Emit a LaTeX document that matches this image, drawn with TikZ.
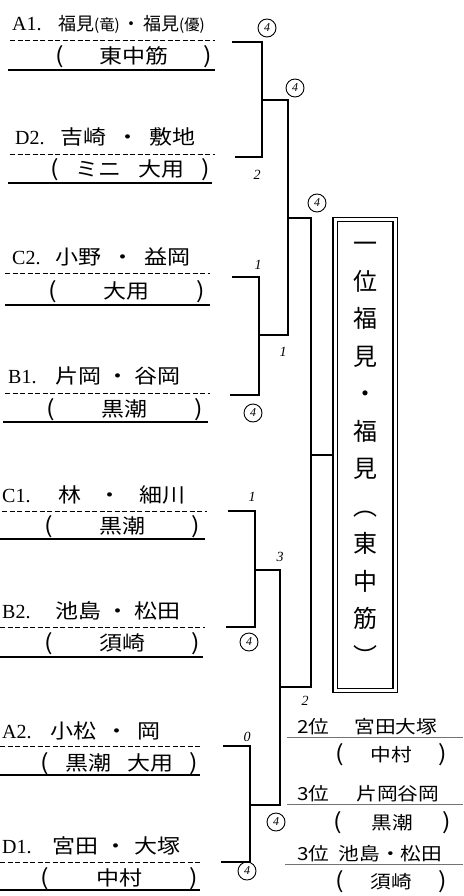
\documentclass[tikz,border=0pt]{standalone}
\usepackage{fontspec}
\setmainfont{Liberation Serif}
\newfontfamily\jp{Noto Sans CJK JP}
\newfontfamily\jpw[FakeStretch=1.15]{Noto Sans CJK JP}
\newcommand\spr[2]{\makebox[#1pt][s]{#2}}
\newcommand\sm[1]{\scalebox{0.85}{#1}}
\newcommand\LP{{\fontsize{22}{22}\selectfont(}}
\newcommand\RP{{\fontsize{22}{22}\selectfont)}}
\begin{document}
\begin{tikzpicture}[x=1pt,y=-1pt,
  lab/.style={anchor=base west, inner sep=0pt, font=\fontsize{20}{20}\selectfont},
  nm/.style={anchor=base west, inner sep=0pt, font=\fontsize{20}{20}\selectfont\jpw},
  sch/.style={anchor=base west, inner sep=0pt, font=\fontsize{20}{20}\selectfont\jpw},
  dl/.style={line width=1pt, dash pattern=on 5pt off 2.5pt},
  sl/.style={line width=1.4pt},
  br/.style={line width=2pt},
  cs/.style={circle, draw, line width=0.9pt, inner sep=0pt, minimum size=18pt, font=\fontsize{12}{12}\selectfont\itshape},
  hs/.style={inner sep=0pt, font=\fontsize{14}{14}\selectfont\itshape},
  res/.style={anchor=base west, inner sep=0pt, font=\fontsize{18}{18}\selectfont\jpw},
  ul/.style={line width=1pt, black!55}
]
\useasboundingbox (0,0) rectangle (463,896);

% ---------- entries ----------
\node[lab] (A1l) at (12,31) {A1.};
\node[nm,font=\fontsize{18}{18}\selectfont\jp] (A1n) at (58,31) {\spr{142}{福見\sm{(竜)} ・ 福見\sm{(優)}}};
\node[sch] (A1s) at (55,64) {\spr{157}{\LP{} 東中筋 \RP}};
\draw[dl] (10,41) -- (215,41);
\draw[sl] (8,70) -- (215,70);

\node[lab] (D2l) at (15,145) {D2.};
\node[nm]  (D2n) at (60,145) {\spr{135}{吉崎 ・ 敷地}};
\node[sch] (D2s) at (50,177) {\spr{160}{\LP{} ミニ 大用 \RP}};
\draw[dl] (10,155) -- (215,155);
\draw[sl] (8,183) -- (212,183);

\node[lab] (C2l) at (12,264) {C2.};
\node[nm]  (C2n) at (55,264) {\spr{135}{小野 ・ 益岡}};
\node[sch] (C2s) at (48,298) {\spr{157}{\LP{} 大用 \RP}};
\draw[dl] (5,273) -- (210,273);
\draw[sl] (5,305) -- (210,305);

\node[lab] (B1l) at (8,383) {B1.};
\node[nm]  (B1n) at (55,383) {\spr{125}{片岡 ・ 谷岡}};
\node[sch] (B1s) at (46,416) {\spr{157}{\LP{} 黒潮 \RP}};
\draw[dl] (5,393) -- (210,393);
\draw[sl] (3,422) -- (208,422);

\node[lab] (C1l) at (2,502) {C1.};
\node[nm]  (C1n) at (58,502) {\spr{127}{林 ・ 細川}};
\node[sch] (C1s) at (44,533) {\spr{156}{\LP{} 黒潮 \RP}};
\draw[dl] (2,511) -- (207,511);
\draw[sl] (0,539) -- (205,539);

\node[lab] (B2l) at (2,618) {B2.};
\node[nm]  (B2n) at (55,618) {\spr{125}{池島 ・ 松田}};
\node[sch] (B2s) at (44,650) {\spr{156}{\LP{} 須崎 \RP}};
\draw[dl] (0,627) -- (205,627);
\draw[sl] (0,657) -- (203,657);

\node[lab] (A2l) at (2,738) {A2.};
\node[nm]  (A2n) at (50,738) {\spr{110}{小松 ・ 岡}};
\node[sch] (A2s) at (40,770) {\spr{158}{\LP{} 黒潮 大用 \RP}};
\draw[dl] (0,746) -- (202,746);
\draw[sl] (0,775) -- (200,775);

\node[lab] (D1l) at (2,853) {D1.};
\node[nm]  (D1n) at (52,853) {\spr{128}{宮田 ・ 大塚}};
\node[sch] (D1s) at (40,885) {\spr{158}{\LP{} 中村 \RP}};
\draw[dl] (0,862) -- (202,862);
\draw[sl] (0,890) -- (200,890);

% ---------- bracket points ----------
\coordinate (A1e) at (232,42);
\coordinate (D2e) at (235,157);
\coordinate (C2e) at (232,277);
\coordinate (B1e) at (230,395);
\coordinate (C1e) at (228,511);
\coordinate (B2e) at (226,627);
\coordinate (A2e) at (223,746);
\coordinate (D1e) at (221,862);
\coordinate (Q1) at (262,100);
\coordinate (Q2) at (259,335);
\coordinate (Q3) at (255,570);
\coordinate (Q4) at (250,805);
\coordinate (S1) at (288,218);
\coordinate (S2) at (280,687);
\coordinate (F) at (311,455);

% ---------- winner box ----------
\node[draw, line width=1.3pt, double, double distance=3pt, minimum width=60pt,
      minimum height=471pt, inner sep=0pt] (box) at (365,455) {};
\node[font=\fontsize{24}{37.5}\selectfont\jp, align=center, inner sep=0pt] (wt) at (365,454)
  {一\\位\\福\\見\\・\\福\\見\\︵\\東\\中\\筋\\︶};

% ---------- brackets ----------
\draw[br] (A1e) -| (Q1) |- (D2e);
\draw[br] (C2e) -| (Q2) |- (B1e);
\draw[br] (C1e) -| (Q3) |- (B2e);
\draw[br] (A2e) -| (Q4) |- (D1e);
\draw[br] (Q1) -| (S1) |- (Q2);
\draw[br] (Q3) -| (S2) |- (Q4);
\draw[br] (S1) -| (F) |- (S2);
\draw[br] (F) -- (box.west);

% ---------- scores ----------
\node[cs] (s1) at (267,28) {4};
\node[hs] (s2) at (257,175) {2};
\node[cs] (s3) at (295,88) {4};
\node[hs] (s4) at (258,265) {1};
\node[cs] (s5) at (253,413) {4};
\node[hs] (s6) at (283,352) {1};
\node[cs] (s7) at (317,203) {4};
\node[hs] (s8) at (252,497) {1};
\node[hs] (s9) at (280,557) {3};
\node[cs] (s10) at (249,642) {4};
\node[hs] (s11) at (247,737) {0};
\node[cs] (s12) at (276,822) {4};
\node[cs] (s13) at (247,871) {4};
\node[hs] (s14) at (305,701) {2};

% ---------- results ----------
\node[res] (r2)   at (297,733) {\spr{140}{2位 宮田大塚}};
\node[res] (r2s)  at (335,761) {\spr{112}{\LP{} 中村 \RP}};
\node[res] (r3a)  at (297,800) {\spr{142}{3位 片岡谷岡}};
\node[res] (r3as) at (333,829) {\spr{118}{\LP{} 黒潮 \RP}};
\node[res] (r3b)  at (297,860) {\spr{145}{3位 池島・松田}};
\node[res] (r3bs) at (335,888) {\spr{112}{\LP{} 須崎 \RP}};
\draw[ul] (287,737) -- (463,737);
\draw[ul] (287,804) -- (463,804);
\draw[ul] (285,864) -- (463,864);
\end{tikzpicture}
\end{document}
